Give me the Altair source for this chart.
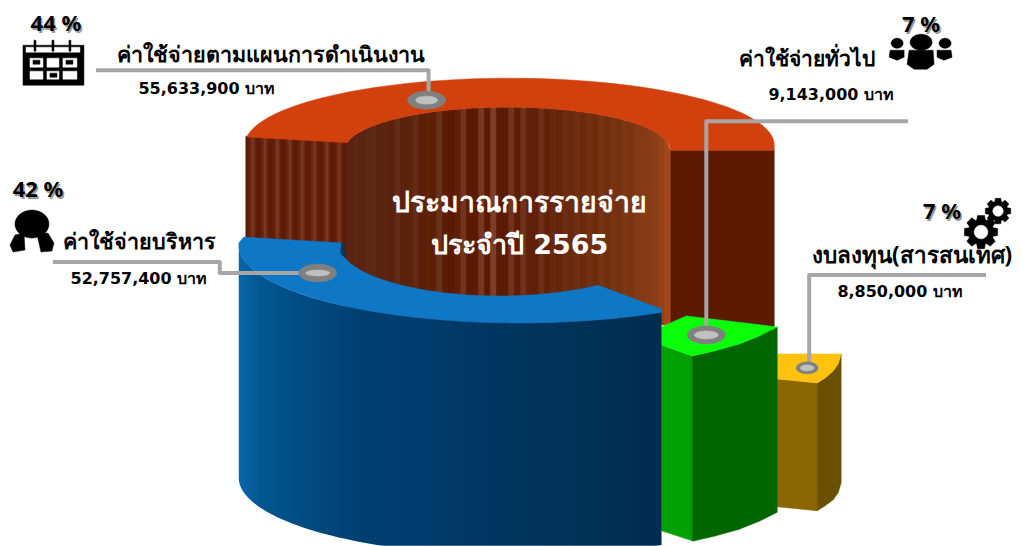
import math
import altair as alt
import pandas as pd

CATEGORIES = ["ค่าใช้จ่ายตามแผนการดำเนินงาน", "ค่าใช้จ่ายบริหาร", "ค่าใช้จ่ายทั่วไป", "งบลงทุน(สารสนเทศ)"]
AMOUNTS = ["55,633,900 บาท", "52,757,400 บาท", "9,143,000 บาท", "8,850,000 บาท"]
PERCENTS = ["44 %", "42 %", "7 %", "7 %"]
TITLE = ["ประมาณการรายจ่าย", "ประจำปี 2565"]

ORANGE, BLUE, GREEN, GOLD = "#d2400d", "#0e78c6", "#0bff0b", "#ffc20e"
INNER_COLORS = [
    "#5a2410", "#5c2612", "#5a2410", "#5c2814", "#5e2a15", "#5a2310", "#5c250f", "#5a220e",
    "#622b15", "#5a220e", "#5c230c", "#642b14", "#5a1f09", "#5e2207", "#5e1f06", "#6a3018",
    "#5c1d03", "#5c1a00", "#602008", "#70351c", "#5c1a00", "#5c1a00", "#74391f", "#5c1a00",
    "#7b3f26", "#5c1a00", "#5c1a00", "#70341a", "#5e1c02", "#70321a", "#62200a", "#602008",
    "#6e3014", "#62220a", "#6a280e", "#642408", "#6c2c0f", "#682a0c", "#70300f", "#6a2a0c",
    "#72300f", "#6e2c0e", "#763412", "#703010", "#783414", "#743212", "#7c3814", "#7a3612",
    "#803a16", "#843a16", "#883c16", "#8c3e18", "#944218", "#a4481a",
]
LEFT_COLORS = ["#5e1d06", "#611f08", "#6b2a13", "#7a3a24", "#6b2a13", "#5e1d06"]
BLUE_STOPS = [(0.0, "#0766ab"), (0.05, "#03578f"), (0.15, "#004c82"), (0.3, "#003f70"),
              (0.42, "#003c6e"), (0.6, "#003661"), (0.8, "#003258"), (1.0, "#002c4f")]

rows = []
pid = [0]


def poly(points, fill):
    pid[0] += 1
    for i, (x, y) in enumerate(points):
        rows.append({"pid": pid[0], "ord": i, "x": x, "y": y, "fill": fill})


def arc(cx, cy, rx, ry, a0, a1, n=60):
    return [(cx + rx * math.cos(math.radians(a0 + (a1 - a0) * i / n)),
             cy + ry * math.sin(math.radians(a0 + (a1 - a0) * i / n))) for i in range(n + 1)]


def ell_y_top(x, cx, cy, rx, ry):
    return cy - ry * math.sqrt(max(0, 1 - ((x - cx) / rx) ** 2))


# back wall, right of the hole
poly([(668, 150), (775, 150), (775, 335), (668, 335)], "#5c1a00")
# left cut face with stripes
n = 50
for i in range(n):
    x0 = 246 + (349 - 246) * i / n
    x1 = min(349, x0 + (349 - 246) / n + 1.5)
    t0 = 136 + (x0 - 246) * 6 / 103
    t1 = 136 + (x1 - 246) * 6 / 103
    poly([(x0, t0), (x1, t1), (x1, 262), (x0, 262)], LEFT_COLORS[i % len(LEFT_COLORS)])
# inner wall
ix0, ix1 = 347, 671
n = len(INNER_COLORS)
for i, c in enumerate(INNER_COLORS):
    x0 = ix0 + (ix1 - ix0) * i / n
    x1 = min(ix1, x0 + (ix1 - ix0) / n + 1.5)
    xm = (x0 + x1) / 2
    poly([(x0, ell_y_top(x0, 508, 150, 163, 43)), (xm, ell_y_top(xm, 508, 150, 163, 43)),
          (x1, ell_y_top(x1, 508, 150, 163, 43)), (x1, 325), (x0, 325)], c)
# orange top
poly(arc(510, 145, 265, 67, 187, 360) + [(775, 150), (670, 150)] + arc(508, 150, 163, 43, 360, 190), ORANGE)

# gold
poly([(778, 379), (818, 383), (818, 511), (778, 507)], "#8a6500")
poly([(818, 383), (826, 378), (834, 371), (839, 364), (842, 354), (842, 483), (839, 493), (834, 500), (826, 506),
      (818, 511)], "#6b5000")
poly([(778, 354), (842, 354), (839, 364), (834, 371), (826, 378), (818, 383), (778, 379)], GOLD)

# green
curve = [(693, 356), (715, 351), (740, 344), (760, 336), (778, 327)]
poly([(662, 345), (693, 356), (693, 541), (662, 531)], "#00a000")
poly(curve + [(x, y + 185.5) for x, y in reversed(curve)], "#006600")
poly([(662, 327), (687, 316), (778, 327)] + curve[::-1][1:] + [(662, 345)], GREEN)
back_rows = rows

# blue wall: one outline, filled with a horizontal gradient
rows = []
wall_top = arc(520, 245, 281, 78, 180, 59.6, 70)
poly(wall_top + [(x, y + 233) for x, y in reversed(wall_top)], "wall")
wall_rows = rows

rows = []
# blue top
poly([(244, 237), (343, 243), (341, 248)] + arc(500, 245, 160, 51, 176, 52, 50) + [(662, 309)]
     + arc(520, 245, 281, 78, 59.6, 178, 70) + [(239, 243)], BLUE)
poly([(342, 243), (344, 243), (346, 258), (341, 254)], "#063a5e")


def icon_circle(cx, cy, rx, ry, fill):
    poly(arc(cx, cy, rx, ry, 0, 360, 40), fill)


def rect(x0, y0, x1, y1, fill):
    poly([(x0, y0), (x1, y0), (x1, y1), (x0, y1)], fill)


def gear(cx, cy, r, fill="#000000"):
    pts = []
    teeth = 8
    for t in range(teeth):
        a = 360 * t / teeth
        for d, rr in [(-12, r), (12, r), (19, r * 0.76), (26, r * 0.76)]:
            pts.append((cx + rr * math.cos(math.radians(a + d)), cy + rr * math.sin(math.radians(a + d))))
    poly(pts, fill)
    icon_circle(cx, cy, r * 0.4, r * 0.4, "#ffffff")


# calendar
rect(23, 45, 84, 85, "#000000")
rect(26, 47, 80, 52, "#ffffff")
for xr in (35, 53, 70):
    rect(xr - 1, 40, xr + 1, 51, "#000000")
for x0, x1 in ((30, 43), (47, 59), (63, 77)):
    rect(x0, 58, x1, 67, "#ffffff")
    rect(x0, 71, x1, 79, "#ffffff")
rect(33, 60, 40, 64, "#000000")
rect(66, 60, 73, 64, "#000000")
rect(50, 73, 57, 77, "#000000")
# people group
icon_circle(922, 42, 11, 8, "#000000")
poly([(910, 50), (934, 50), (935, 64), (928, 69), (915, 69), (908, 64)], "#000000")
icon_circle(898, 43, 6, 5, "#000000")
poly([(891, 50), (905, 50), (905, 57), (898, 60), (890, 57)], "#000000")
icon_circle(946, 43, 6, 5, "#000000")
poly([(938, 50), (952, 50), (953, 57), (945, 60), (938, 57)], "#000000")
# gears
gear(982, 232, 17)
gear(999, 211, 13)
# user icon
icon_circle(32, 224, 17, 14, "#000000")
poly([(15, 235), (24, 233), (25, 250), (13, 252), (10, 245)], "#000000")
poly([(37, 234), (48, 233), (54, 243), (52, 251), (41, 252)], "#000000")
front_rows = rows

X = alt.X("x:Q", axis=None, scale=alt.Scale(domain=[8, 1013]))
Y = alt.Y("y:Q", axis=None, scale=alt.Scale(domain=[546, 8]))


def shape_layer(data):
    return alt.Chart(pd.DataFrame(data)).mark_line(interpolate="linear-closed", strokeWidth=0.5, clip=True).encode(
        x=X, y=Y, order="ord:Q", detail="pid:N",
        fill=alt.Fill("fill:N", scale=None), stroke=alt.Stroke("fill:N", scale=None))


back = shape_layer(back_rows)
front = shape_layer(front_rows)
wall = alt.Chart(pd.DataFrame(wall_rows)).mark_line(
    interpolate="linear-closed", strokeWidth=0, clip=True,
    fill=alt.Gradient(gradient="linear", x1=0, x2=1, y1=0, y2=0,
                      stops=[alt.GradientStop(offset=o, color=c) for o, c in BLUE_STOPS])
).encode(x=X, y=Y, order="ord:Q", detail="pid:N")

LEADERS = [
    [(96, 70), (429, 70), (429, 100)],
    [(53, 262), (220, 262), (220, 273), (318, 273)],
    [(909, 121), (707, 121), (707, 335)],
    [(987, 275), (810, 275), (810, 368)],
]
lrows = [{"lid": i, "ord": j, "x": x, "y": y} for i, pts in enumerate(LEADERS) for j, (x, y) in enumerate(pts)]
leaders = alt.Chart(pd.DataFrame(lrows)).mark_line(color="#a6a6a6", strokeWidth=4, strokeJoin="round").encode(
    x=X, y=Y, order="ord:Q", detail="lid:N")

rows = []
for cx, cy, rx, ry, irx, iry in [(427, 100, 19, 9, 11, 4), (318, 273, 19, 9, 12, 3),
                                 (707, 335, 19, 9, 12, 4), (808, 368, 11, 6, 7, 3)]:
    icon_circle(cx, cy, rx, ry, "#808080")
    icon_circle(cx, cy, irx, iry, "#c0c0c0")
markers = shape_layer(rows)

FONT = "Noto Sans"
NUMFONT = "DejaVu Sans"
TEXTS = [
    (PERCENTS[0], 56, 24, 22, "#000000", FONT, True),
    (CATEGORIES[0], 271, 56, 21.5, "#000000", FONT, False),
    (AMOUNTS[0], 207, 89, 16, "#000000", NUMFONT, False),
    (PERCENTS[1], 38, 190, 22, "#000000", FONT, True),
    (CATEGORIES[1], 140, 243, 21.5, "#000000", FONT, False),
    (AMOUNTS[1], 139, 279, 16, "#000000", NUMFONT, False),
    (PERCENTS[2], 922, 25, 22, "#000000", FONT, True),
    (CATEGORIES[2], 808, 60, 21, "#000000", FONT, False),
    (AMOUNTS[2], 832, 95, 16, "#000000", NUMFONT, False),
    (PERCENTS[3], 943, 212, 22, "#000000", FONT, True),
    (CATEGORIES[3], 913, 256, 22.5, "#000000", FONT, False),
    (AMOUNTS[3], 901, 292, 16, "#000000", NUMFONT, False),
    (TITLE[0], 520, 203, 28.5, "#ffffff", FONT, False),
    (TITLE[1], 520, 246, 27, "#ffffff", NUMFONT, False),
]
texts = []
for t, x, y, s, c, f, shadow in TEXTS:
    if shadow:
        texts.append(alt.Chart(pd.DataFrame({"x": [x + 1.5], "y": [y + 1.5], "t": [t]})).mark_text(
            font=f, fontSize=s, fontWeight="bold", color="#9a9a9a", align="center", baseline="middle").encode(
            x=X, y=Y, text="t:N"))
    texts.append(alt.Chart(pd.DataFrame({"x": [x], "y": [y], "t": [t]})).mark_text(
        font=f, fontSize=s, fontWeight="bold", color=c, align="center", baseline="middle").encode(
        x=X, y=Y, text="t:N"))

chart = alt.layer(back, wall, front, leaders, markers, *texts).properties(
    width=1005, height=538, padding=0, background="#ffffff"
).configure_view(stroke=None)
chart.save("out.html", embed_options={"renderer": "svg", "actions": False})
